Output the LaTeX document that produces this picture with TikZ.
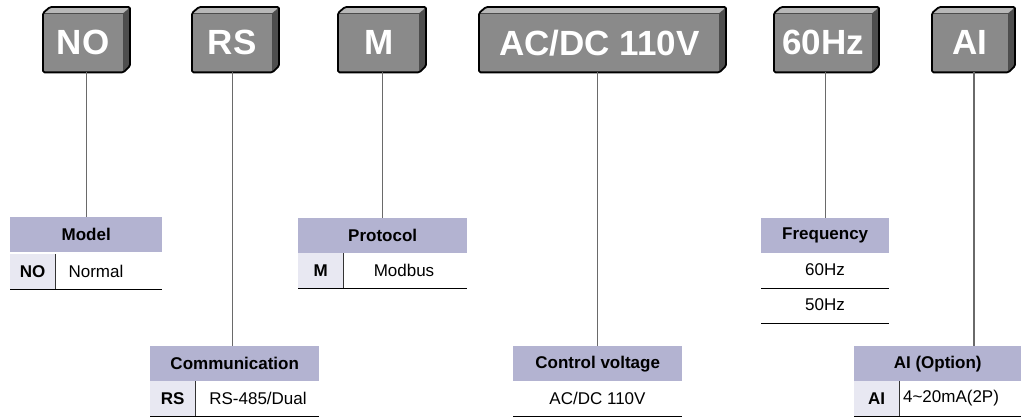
\documentclass[tikz,border=0pt]{standalone}
\usepackage{fontspec}
\setmainfont{Liberation Sans}
\definecolor{boxfront}{HTML}{8A8A8A}
\definecolor{boxtop}{HTML}{B8B8B8}
\definecolor{boxside}{HTML}{4E4E4E}
\definecolor{hdrcol}{HTML}{B3B3D1}
\definecolor{keycol}{HTML}{E8E8F2}
\definecolor{linegray}{HTML}{6A6A6A}
\tikzset{
  front/.style={fill=boxfront, inner sep=0pt, minimum height=59pt, anchor=north west,
    font=\fontsize{35}{35}\selectfont\bfseries, text=white},
  hdr/.style={fill=hdrcol, inner sep=0pt, minimum height=35pt, anchor=north west,
    font=\fontsize{17}{17}\selectfont\bfseries},
  keycell/.style={fill=keycol, inner sep=0pt, minimum height=35pt, minimum width=45pt,
    anchor=north west, font=\fontsize{17}{17}\selectfont\bfseries},
  valtxt/.style={inner sep=0pt, font=\fontsize{17}{17}\selectfont},
  conn/.style={draw=linegray, line width=1.3pt},
  rulel/.style={draw=black, line width=1.4pt},
  divl/.style={draw=black!80, line width=0.8pt},
}
\newcommand\gbox[4]{%
  \node[front, minimum width={#3-#2-7}] (#1) at (#2,13) {#4};
  \fill[boxtop] (#1.north west) -- ++(7,-6) -- ++({#3-#2-7},0) -- (#1.north east) -- cycle;
  \fill[boxside] (#1.north east) -- ++(7,-6) -- ++(0,59) -- (#1.south east) -- cycle;
  \draw[black!70, line width=0.5pt] (#1.north west) -- (#1.north east) -- (#1.south east);
  \draw[black, line width=1.8pt, line join=round, rounded corners=1.5pt]
    (#1.south west) -- (#1.north west) -- ++(7,-6) -- ++({#3-#2-7},0) -- ++(0,59)
    -- (#1.south east) -- cycle;
}
\begin{document}
\begin{tikzpicture}[x=1pt, y=-1pt]
\useasboundingbox (0,0) rectangle (1025,417);

% top boxes
\gbox{b1}{43}{130}{NO}
\gbox{b2}{192}{279}{RS}
\gbox{b3}{338}{426}{M}
\gbox{b4}{479}{726}{AC/DC 110V}
\gbox{b5}{774}{879}{60Hz}
\gbox{b6}{932}{1015}{AI}

% Model
\node[hdr, minimum width=152pt] (h1) at (10,217) {Model};
\node[keycell] (k1) at (10,254) {NO};
\node[valtxt] (v1) at (96,271) {Normal};
\draw[divl] (k1.north east) -- (k1.south east);
\draw[rulel] (k1.south west) -- (k1.south west -| h1.east);

% Communication
\node[hdr, minimum width=169pt] (h2) at (150,346) {Communication};
\node[keycell] (k2) at (150,381) {RS};
\node[valtxt] (v2) at (258,398) {RS-485/Dual};
\draw[divl] (k2.north east) -- (k2.south east);
\draw[rulel] (k2.south west) -- (k2.south west -| h2.east);

% Protocol
\node[hdr, minimum width=169pt] (h3) at (298,218) {Protocol};
\node[keycell] (k3) at (298,253) {M};
\node[valtxt] (v3) at (404,270) {Modbus};
\draw[divl] (k3.north east) -- (k3.south east);
\draw[rulel] (k3.south west) -- (k3.south west -| h3.east);

% Control voltage
\node[hdr, minimum width=169pt] (h4) at (513,346) {Control voltage};
\node[valtxt] (v4) at (597.5,398) {AC/DC 110V};
\draw[rulel] (h4.south west) ++(0,35) -- ++(169,0);

% Frequency
\node[hdr, minimum width=128pt] (h5) at (761,218) {Frequency};
\node[valtxt] (v5a) at (825,270) {60Hz};
\node[valtxt] (v5b) at (825,305) {50Hz};
\draw[rulel] (h5.south west) ++(0,35) -- ++(128,0);
\draw[rulel] (h5.south west) ++(0,70) -- ++(128,0);

% AI (Option)
\node[hdr, minimum width=167pt] (h6) at (854,346) {AI (Option)};
\node[keycell] (k6) at (854,381) {AI};
\node[valtxt] (v6) at (951,398) {4\char`~20mA(2P)};
\draw[divl] (k6.north east) -- (k6.south east);
\draw[rulel] (k6.south west) -- (k6.south west -| h6.east);

% connectors
\draw[conn] (b1.south -| h1.north) -- (h1.north);
\draw[conn] (b2.south) -- (b2.south |- h2.north);
\draw[conn] (b3.south -| h3.north) -- (h3.north);
\draw[conn] (b4.south -| h4.north) -- (h4.north);
\draw[conn] (b5.south -| h5.north) -- (h5.north);
\coordinate (c6) at (974,72);
\draw[conn] (c6) -- (c6 |- h6.north);
\end{tikzpicture}
\end{document}
